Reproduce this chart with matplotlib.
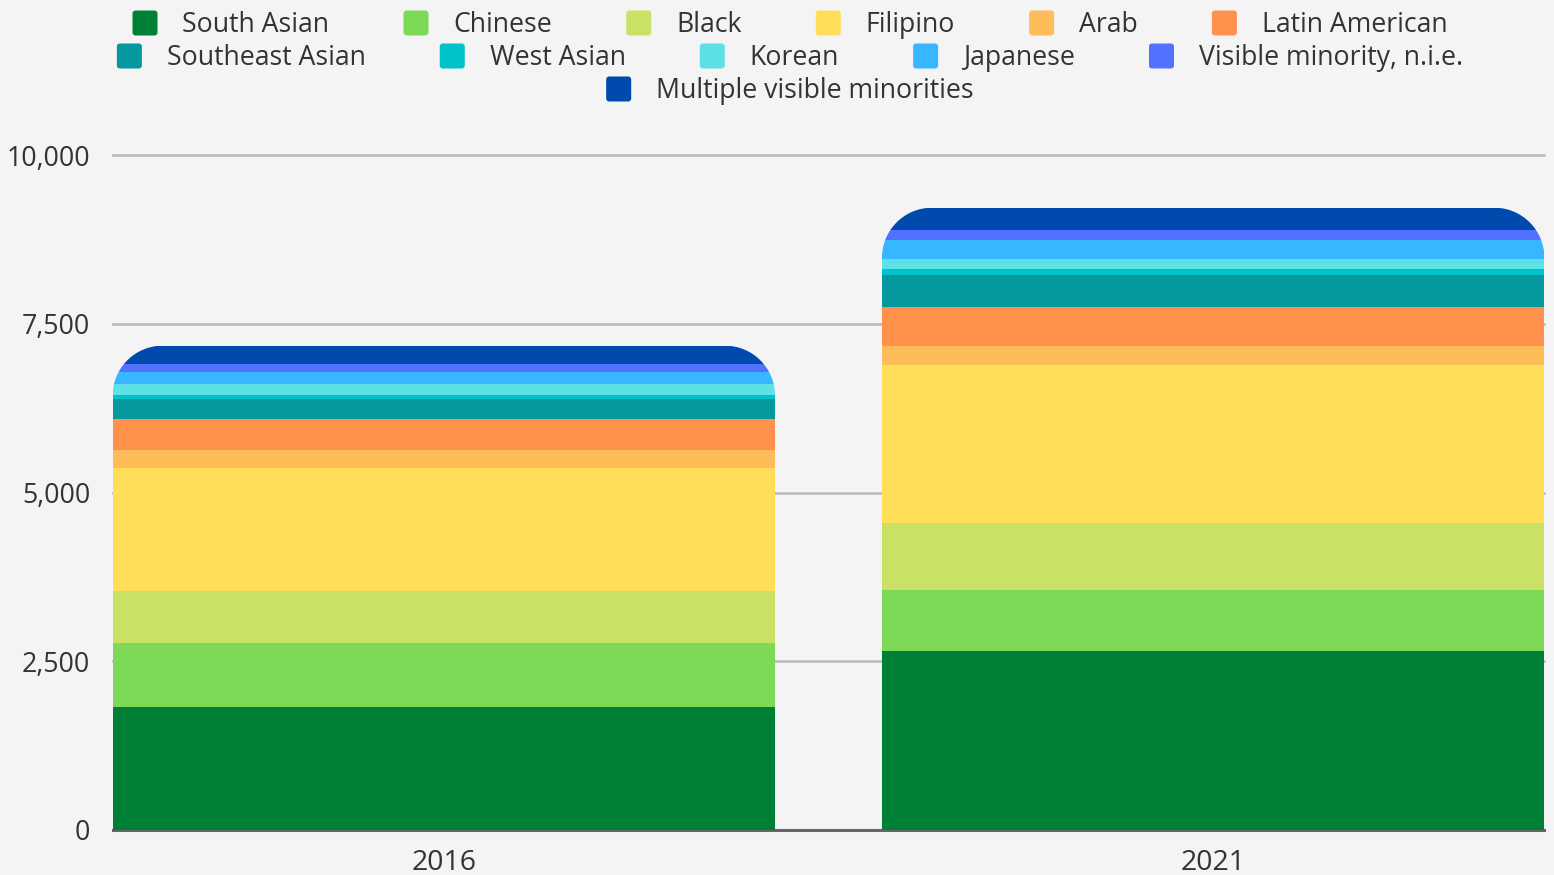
import numpy as np
import matplotlib
matplotlib.use("Agg")
import matplotlib.pyplot as plt
from matplotlib.patches import FancyBboxPatch, PathPatch
from matplotlib.path import Path

plt.rcParams['font.family'] = ['Open Sans', 'DejaVu Sans']

years = ['2016', '2021']
groups = ['South Asian', 'Chinese', 'Black', 'Filipino', 'Arab', 'Latin American',
          'Southeast Asian', 'West Asian', 'Korean', 'Japanese',
          'Visible minority, n.i.e.', 'Multiple visible minorities']
colors = ['#008037', '#7ed957', '#c9e265', '#ffde59', '#ffbd59', '#ff914d',
          '#03989e', '#00c2cb', '#5ce1e6', '#38b6ff', '#5271ff', '#004aad']
vals_2016 = [1822, 948, 771, 1822, 267, 459, 296, 59, 163, 174, 123, 271]
vals_2021 = [2652, 904, 992, 2341, 281, 578, 474, 89, 148, 277, 153, 330]
yticks = [0, 2500, 5000, 7500, 10000]

W, H = 1554, 875
bg = '#f4f4f4'
txt = '#333333'


def top_rounded(x0, x1, yb, yt, rx, ry):
    # rectangle with circular-looking top corners (cubic bezier arcs)
    k = 0.5523
    verts = [(x0, yb), (x0, yt - ry),
             (x0, yt - ry + k * ry), (x0 + rx - k * rx, yt), (x0 + rx, yt),
             (x1 - rx, yt),
             (x1 - rx + k * rx, yt), (x1, yt - ry + k * ry), (x1, yt - ry),
             (x1, yb), (x0, yb)]
    codes = [Path.MOVETO, Path.LINETO,
             Path.CURVE4, Path.CURVE4, Path.CURVE4,
             Path.LINETO,
             Path.CURVE4, Path.CURVE4, Path.CURVE4,
             Path.LINETO, Path.CLOSEPOLY]
    return Path(verts, codes)


fig = plt.figure(figsize=(W / 100, H / 100), dpi=100, facecolor=bg)
ax = fig.add_axes([113 / W, 45 / H, 1431 / W, 675 / H], facecolor=bg)

x = np.arange(len(years))
bw = 0.861
ax.set_xlim(-0.43, 1.43)
ax.set_ylim(0, 10000)

for t in yticks[1:]:
    ax.axhline(t, color='#bbbbbb', lw=1.9, zorder=0, clip_on=False)
ax.axhline(0, color='#666666', lw=2.2, zorder=0, clip_on=False)

rx = 0.065
ry = 741.0
data = np.array([vals_2016, vals_2021])
for i in range(len(years)):
    total = data[i].sum()
    clip = PathPatch(top_rounded(x[i] - bw / 2, x[i] + bw / 2, -3000, total, rx, ry),
                     transform=ax.transData)
    bottom = 0
    for j in range(len(groups)):
        bars = ax.bar(x[i], data[i, j], bw, bottom=bottom, color=colors[j],
                      linewidth=0, zorder=2)
        for b in bars:
            b.set_clip_path(clip)
        bottom += data[i, j]

ax.set_yticks(yticks)
ax.set_yticklabels([f'{t:,}' for t in yticks])
ax.set_xticks(x)
ax.set_xticklabels(years)
ax.tick_params(axis='y', length=0, pad=16.5, labelsize=19.3, labelcolor=txt)
ax.tick_params(axis='x', length=0, pad=13.5, labelsize=20.5, labelcolor=txt)
for s in ax.spines.values():
    s.set_visible(False)

# legend drawn in pixel coordinates, each row centred
lax = fig.add_axes([0, 0, 1, 1])
lax.set_xlim(0, W)
lax.set_ylim(H, 0)
lax.axis('off')
renderer = fig.canvas.get_renderer()

rows = [groups[0:6], groups[6:11], groups[11:]]
row_y = [23, 56, 89]
msize = 25
gap_text = 50
gap_item = 74
center = 790
fs = 19.2
for r, names in enumerate(rows):
    widths = []
    for n in names:
        t = lax.text(0, 0, n, fontsize=fs)
        widths.append(t.get_window_extent(renderer).width)
        t.remove()
    total = sum(gap_text + w for w in widths) + gap_item * (len(names) - 1)
    xx = center - total / 2
    for n, w in zip(names, widths):
        c = colors[groups.index(n)]
        lax.add_patch(FancyBboxPatch((xx, row_y[r] - msize / 2), msize, msize,
                                     boxstyle="round,pad=0,rounding_size=3",
                                     facecolor=c, edgecolor='none'))
        lax.text(xx + gap_text, row_y[r] + 2, n, fontsize=fs, color=txt,
                 va='center', ha='left')
        xx += gap_text + w + gap_item

fig.savefig('out.png', dpi=100, facecolor=bg)
